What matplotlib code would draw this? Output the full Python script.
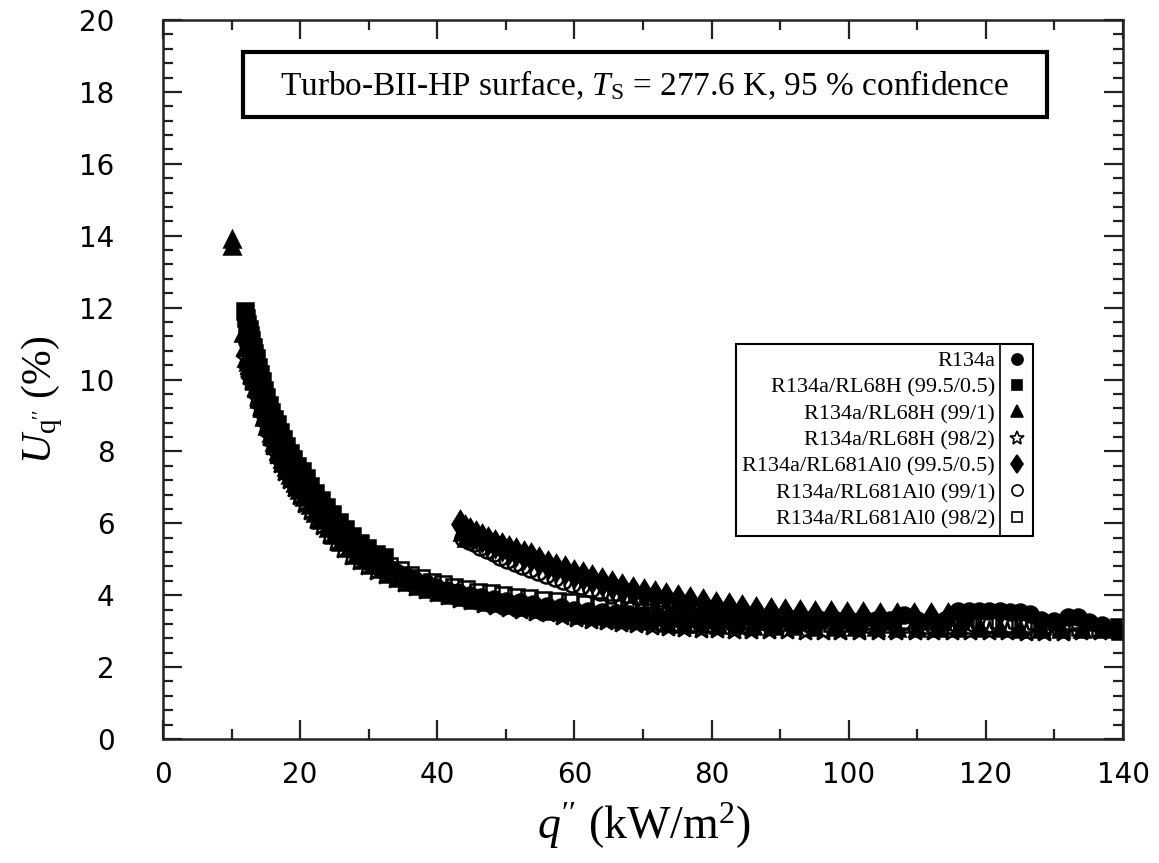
import matplotlib
matplotlib.use("Agg")
import matplotlib.pyplot as plt
from matplotlib.ticker import MultipleLocator
from matplotlib.patches import Rectangle
from matplotlib.lines import Line2D

plt.rcParams['mathtext.fontset'] = 'custom'
plt.rcParams['mathtext.rm'] = 'Liberation Serif'
plt.rcParams['mathtext.it'] = 'Liberation Serif:italic'

# ---------------- data ----------------
# R134a (filled circles)
r134a_x = [12.3, 12.6, 12.9, 13.2, 13.5, 13.8, 14.1, 14.5, 14.9, 15.3, 15.7, 16.1, 16.6, 17.1, 17.6, 18.2,
           18.8, 19.4, 20.0, 20.7, 21.4, 22.2, 23.0, 23.9, 24.8, 25.8, 26.8, 27.9, 29.0, 30.2, 31.4, 32.7,
           34.0, 35.4, 36.8, 38.3, 39.8, 41.4, 43.0, 44.7, 46.4, 48.2, 50.0, 52.0, 54.0, 56.0, 58.0, 60.0,
           62, 64, 66, 68, 70, 72, 74, 76, 78, 80, 82, 84, 86, 88, 90, 92, 94, 96, 98, 100, 102, 104, 106,
           108, 110, 112, 114, 116, 117.5, 119, 120.5, 122, 123.5, 125, 126.5, 128, 130, 132, 133.5, 135,
           137, 139]
r134a_y = [11.05, 10.8, 10.55, 10.3, 10.05, 9.85, 9.63, 9.38, 9.12, 8.9, 8.7, 8.5, 8.3, 8.08, 7.9, 7.68,
           7.47, 7.28, 7.1, 6.9, 6.7, 6.47, 6.28, 6.08, 5.88, 5.7, 5.5, 5.32, 5.16, 5.0, 4.9, 4.78,
           4.65, 4.53, 4.42, 4.33, 4.23, 4.15, 4.08, 4.01, 3.95, 3.9, 3.85, 3.8, 3.76, 3.71, 3.66, 3.6,
           3.56, 3.52, 3.5, 3.47, 3.45, 3.42, 3.4, 3.38, 3.37, 3.36, 3.35, 3.35, 3.34, 3.34, 3.33, 3.33,
           3.32, 3.32, 3.31, 3.31, 3.3, 3.3, 3.3, 3.45, 3.3, 3.29, 3.3, 3.55, 3.57, 3.56, 3.55, 3.55,
           3.54, 3.53, 3.48, 3.3, 3.28, 3.38, 3.38, 3.25, 3.18, 3.1]

# R134a/RL68H (99.5/0.5) (filled squares)
rl68h_995_x = [11.9, 12.1, 12.3, 12.5, 12.7, 12.9, 13.1, 13.3, 13.5, 13.8, 14.1, 14.4, 14.7, 15.0, 15.4,
               15.8, 16.2, 16.6, 17.0, 17.5, 18.0, 18.5, 19.0, 19.6, 20.2, 20.8, 21.5, 22.2, 23.0, 23.8,
               24.7, 25.6, 26.6, 27.6, 28.7, 29.8, 31.0, 32.2]
rl68h_995_y = [11.9, 11.7, 11.55, 11.4, 11.25, 11.1, 10.9, 10.75, 10.6, 10.35, 10.15, 9.95, 9.7, 9.5, 9.3,
               9.1, 8.9, 8.75, 8.55, 8.35, 8.15, 7.95, 7.8, 7.6, 7.45, 7.25, 7.05, 6.85, 6.65, 6.45,
               6.25, 6.05, 5.85, 5.65, 5.45, 5.3, 5.15, 5.05]

# R134a/RL68H (99/1) (filled triangles)
rl68h_991_x = [10.0, 10.1, 11.7, 11.9, 12.1, 12.4, 12.7, 13.0, 13.3, 13.6, 14.0, 14.4, 14.8, 15.2, 15.7,
               16.2, 16.7, 17.3, 17.9, 18.5, 19.2, 19.9, 20.6, 21.4, 22.2, 23.1, 24.0, 25.0, 26.0, 27.1,
               28.2, 29.4, 30.6, 31.9, 33.2, 34.6, 36.0, 37.5, 39.0, 40.6, 42.2, 43.6, 43.9, 44.2, 45.6,
               47.4, 49.2, 51.1, 53.0, 55.0, 57.0, 59.0, 61.0, 63.0, 65.0, 67.0, 69.0, 71.0, 73.5, 76.0,
               78.5, 81.0, 83.5, 86.0, 89.0, 92.0, 95.0, 98.0, 101.0, 104.0, 107.0, 110.0, 113.0, 116.0,
               119.0, 122.0, 125.0, 128.0, 131.0, 134.0, 137.0, 139.5]
rl68h_991_y = [13.9, 13.7, 11.3, 10.9, 10.6, 10.5, 10.3, 10.18, 9.95, 9.75, 9.45, 9.2, 8.95, 8.72, 8.5,
               8.25, 8.02, 7.8, 7.57, 7.35, 7.12, 6.92, 6.72, 6.52, 6.3, 6.1, 5.88, 5.68, 5.48, 5.3,
               5.13, 4.98, 4.84, 4.72, 4.6, 4.48, 4.36, 4.26, 4.17, 4.08, 4.01, 5.75, 3.94, 5.6, 3.88,
               3.82, 3.77, 3.72, 3.67, 3.62, 3.57, 3.52, 3.46, 3.42, 3.38, 3.34, 3.3, 3.27, 3.24, 3.21,
               3.19, 3.17, 3.16, 3.15, 3.14, 3.13, 3.12, 3.12, 3.11, 3.11, 3.1, 3.1, 3.09, 3.09,
               3.08, 3.08, 3.07, 3.07, 3.06, 3.05, 3.05, 3.05]

# R134a/RL68H (98/2) (open stars)
rl68h_982_x = [12.0, 12.3, 12.6, 12.9, 13.2, 13.6, 14.0, 14.4, 14.9, 15.4, 15.9, 16.5, 17.1, 17.7, 18.4,
               19.1, 19.8, 20.6, 21.4, 22.3, 23.2, 24.2, 25.2, 26.3, 27.4, 28.6, 29.8, 31.1, 32.4, 33.8,
               35.2, 36.7, 38.2, 39.8, 41.4, 43.1, 44.8, 46.6, 48.4, 50.3, 52.2, 54.2, 56.2, 58.2, 60.3,
               62.4, 64.6, 66.8, 69.0, 71.3, 73.6, 76.0, 78.4, 80.8, 83.3, 85.8, 88.4, 91.0, 93.6, 96.2,
               98.8, 101.5, 104.2, 106.9, 109.6, 112.3, 115.0, 117.7, 120.4, 123.1, 125.8, 128.5, 131.2,
               133.9, 136.6, 139.3]
rl68h_982_y = [10.6, 10.3, 10.1, 9.95, 9.75, 9.48, 9.2, 8.95, 8.7, 8.4, 8.15, 7.9, 7.65, 7.42, 7.2,
               6.97, 6.75, 6.55, 6.35, 6.1, 5.92, 5.68, 5.48, 5.28, 5.1, 4.95, 4.8, 4.68, 4.56, 4.45,
               4.35, 4.24, 4.15, 4.05, 3.98, 3.9, 3.83, 3.75, 3.7, 3.64, 3.6, 3.54, 3.5, 3.42, 3.37,
               3.32, 3.27, 3.23, 3.19, 3.15, 3.12, 3.1, 3.07, 3.05, 3.04, 3.03, 3.02, 3.02, 3.01, 3.01,
               3.01, 3.0, 3.0, 3.0, 3.0, 3.0, 3.0, 3.0, 3.0, 3.0, 2.99, 2.99, 2.99,
               3.0, 3.0, 3.01]

# R134a/RL681Al0 (99.5/0.5) (filled diamonds)
rl681_995_x = [43.3, 44.0, 44.8, 45.6, 46.5, 47.4, 48.4, 49.4, 50.4, 51.5, 52.6, 53.7, 54.9, 56.1, 57.3,
               58.6, 59.9, 61.2, 62.6, 64.0, 65.5, 67.0, 68.5, 70.1, 71.7, 73.4, 75.1, 76.9, 78.7, 80.6,
               82.5, 84.5, 86.5, 88.6, 90.7, 92.9, 95.1, 97.4, 99.7, 102.1, 104.5, 107.0, 109.5, 112.0,
               114.5, 117.0]
rl681_995_y = [5.98, 5.85, 5.77, 5.68, 5.58, 5.5, 5.42, 5.34, 5.27, 5.2, 5.13, 5.05, 4.96, 4.85, 4.77,
               4.69, 4.6, 4.53, 4.45, 4.36, 4.28, 4.2, 4.12, 4.05, 4.0, 3.95, 3.9, 3.83, 3.77, 3.71,
               3.66, 3.61, 3.57, 3.53, 3.5, 3.48, 3.46, 3.44, 3.42, 3.41, 3.4, 3.4, 3.39, 3.38,
               3.38, 3.37]

# R134a/RL681Al0 (99/1) (open circles)
rl681_991_x = [43.8, 44.6, 45.4, 46.3, 47.2, 48.2, 49.2, 50.2, 51.3, 52.4, 53.5, 54.7, 55.9, 57.1, 58.4,
               59.7, 61.0, 62.4, 63.8, 65.3, 66.8, 68.4, 70.0, 71.7, 73.4, 75.2, 77.0, 78.9, 80.8, 82.8,
               84.8, 86.9, 89.0, 91.2, 93.4, 95.7, 98.0, 100.4, 102.8, 105.3, 107.8, 110.3, 112.9, 115.5,
               118.1, 120.7, 123.4, 126.1, 128.8]
rl681_991_y = [5.6, 5.52, 5.44, 5.35, 5.26, 5.16, 5.07, 4.99, 4.9, 4.81, 4.73, 4.64, 4.56, 4.48, 4.4,
               4.32, 4.25, 4.16, 4.08, 4.0, 3.92, 3.85, 3.79, 3.73, 3.67, 3.62, 3.58, 3.54, 3.5, 3.46,
               3.43, 3.4, 3.38, 3.36, 3.34, 3.32, 3.3, 3.29, 3.28, 3.27, 3.26, 3.25, 3.24, 3.23,
               3.22, 3.21, 3.2, 3.19, 3.18]

# R134a/RL681Al0 (98/2) (open squares)
rl681_982_x = [30.0, 31.5, 33.0, 34.5, 36.0, 37.6, 39.2, 40.8, 42.5, 44.2, 46.0, 47.8, 49.6, 51.5, 53.4,
               55.4, 57.4, 59.4, 61.5, 63.6, 65.8, 68.0, 70.2, 72.5, 74.8, 77.2, 79.6, 82.0, 84.5, 87.0,
               89.6, 92.2, 94.8, 97.5, 100.2, 103.0, 105.8, 108.6, 111.4, 114.2, 117.0, 119.8, 122.6,
               125.4, 128.2, 131.0, 133.8, 136.6, 139.4, 139.6]
rl681_982_y = [5.1, 4.95, 4.82, 4.7, 4.57, 4.47, 4.38, 4.3, 4.23, 4.16, 4.1, 4.05, 4.0, 3.96, 3.92,
               3.88, 3.84, 3.8, 3.75, 3.7, 3.64, 3.58, 3.53, 3.48, 3.44, 3.4, 3.36, 3.33, 3.3, 3.28,
               3.26, 3.25, 3.24, 3.23, 3.22, 3.21, 3.2, 3.19, 3.18, 3.18, 3.17, 3.16, 3.15,
               3.14, 3.13, 3.12, 3.11, 3.1, 3.12, 3.0]

labels = ["R134a", "R134a/RL68H (99.5/0.5)", "R134a/RL68H (99/1)", "R134a/RL68H (98/2)",
          "R134a/RL681Al0 (99.5/0.5)", "R134a/RL681Al0 (99/1)", "R134a/RL681Al0 (98/2)"]

x_ticks = [0, 20, 40, 60, 80, 100, 120, 140]
y_ticks = [0, 2, 4, 6, 8, 10, 12, 14, 16, 18, 20]

# ---------------- figure ----------------
fig = plt.figure(figsize=(11.59, 8.63), dpi=100)
ax = fig.add_axes([163/1159, 1-739/863, 960/1159, 719/863])

series = [
    (r134a_x, r134a_y, dict(marker='o', mfc='black', ms=11.5, zorder=4)),
    (rl68h_995_x, rl68h_995_y, dict(marker='s', mfc='black', ms=11, zorder=4)),
    (rl68h_991_x, rl68h_991_y, dict(marker='^', mfc='black', ms=12, zorder=4)),
    (rl68h_982_x, rl68h_982_y, dict(marker='*', mfc='none', ms=14, zorder=2)),
    (rl681_995_x, rl681_995_y, dict(marker='d', mfc='black', ms=13, zorder=4)),
    (rl681_991_x, rl681_991_y, dict(marker='o', mfc='none', ms=11.5, zorder=2)),
    (rl681_982_x, rl681_982_y, dict(marker='s', mfc='none', ms=11, zorder=2)),
]
legend_ms = [8, 7.5, 8.5, 10, 9.5, 8, 7.5]
handles = []
for (xs, ys, st), lab in zip(series, labels):
    h, = ax.plot(xs, ys, ls='none', mec='black', mew=1.8, color='black', label=lab, **st)
    handles.append(h)

ax.set_xlim(0, 140)
ax.set_ylim(0, 20)
ax.set_xticks(x_ticks)
ax.set_yticks(y_ticks)
ax.xaxis.set_minor_locator(MultipleLocator(10))
ax.yaxis.set_minor_locator(MultipleLocator(0.4))
ax.tick_params(which='both', direction='in', top=True, right=True, width=1.6, colors='#222222')
ax.tick_params(which='major', length=14, labelsize=20)
ax.tick_params(axis='x', which='major', pad=16)
ax.tick_params(axis='y', which='major', pad=35)
ax.tick_params(which='minor', length=7)
for lab in ax.get_xticklabels() + ax.get_yticklabels():
    lab.set_fontfamily('DejaVu Sans')
    lab.set_color('black')
for sp in ax.spines.values():
    sp.set_linewidth(1.8)
    sp.set_color('#222222')
    sp.set_zorder(6)

# axis labels
fig.text(644/1159, 1-826/863, r"$q''$ (kW/m$^2$)", ha='center', va='center',
         fontsize=33, family='Liberation Serif')
fig.text(42/1159, 1-400/863, r"$U_{\mathrm{q}''}$ (%)", ha='center', va='center',
         rotation=90, fontsize=30, family='Liberation Serif')

# title box
ax.add_patch(Rectangle((0.0833, 0.865), 0.921-0.0833, 0.9555-0.865, transform=ax.transAxes,
                       fill=True, facecolor='white', edgecolor='black', lw=3, zorder=5))
ax.text(0.501, 0.9096, r"Turbo-BII-HP surface, $T_\mathrm{S}$ = 277.6 K, 95 % confidence",
        transform=ax.transAxes, ha='center', va='center', fontsize=24,
        family='Liberation Serif', zorder=6)

# legend
leg = ax.legend(handles=handles, loc='upper right', bbox_to_anchor=(0.906, 0.549),
                markerfirst=False, frameon=True, fancybox=False, framealpha=1,
                edgecolor='black', prop={'family': 'Liberation Serif', 'size': 16},
                labelspacing=0.26, handlelength=0.8, handletextpad=0.6, borderpad=0.3,
                borderaxespad=0, numpoints=1)
leg.set_zorder(7)
leg.get_frame().set_linewidth(1.5)
for lh, ms in zip(leg.legend_handles, legend_ms):
    lh.set_markersize(ms)
    lh.set_markeredgewidth(1.2)

fig.canvas.draw()
r = fig.canvas.get_renderer()
right_txt = max(t.get_window_extent(r).x1 for t in leg.get_texts())
lb = leg.get_window_extent(r)
inv = fig.transFigure.inverted()
xs_line = inv.transform((right_txt + 5, 0))[0]
y0 = inv.transform((0, lb.y0))[1]
y1 = inv.transform((0, lb.y1))[1]
fig.add_artist(Line2D([xs_line, xs_line], [y0, y1], transform=fig.transFigure, color='black',
                      lw=1.2, zorder=8))

fig.savefig("out.png", dpi=100)
